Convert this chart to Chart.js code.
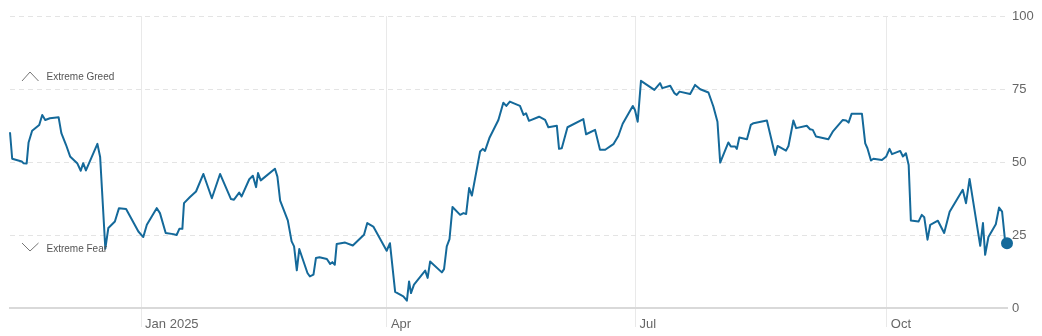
<!DOCTYPE html>
<html>
<head>
<meta charset="utf-8">
<script src="https://cdn.jsdelivr.net/npm/chart.js@4.4.1/dist/chart.umd.min.js"></script>
<style>
  body { margin: 0; background: #fff; }
  canvas { display: block; }
</style>
</head>
<body>
<canvas id="fearGreed" width="1042" height="336"></canvas>
<script>
// days since Nov 14 2024, and the index value on that day
const days = [0, 0.8, 4.3, 4.9, 6.1, 6.8, 8.1, 10.7, 11.8, 12.9, 14.6, 17.8, 18.8, 20.5, 22.0, 24.6, 25.9, 26.8, 27.8, 32.0,
  33.0, 34.9, 36.0, 38.4, 39.9, 42.5, 47.0, 48.8, 50.1, 53.7, 54.9, 57.0, 59.8, 61.0, 62.0, 63.1, 63.7, 65.9, 68.1, 70.8,
  73.9, 76.9, 80.9, 82.0, 83.9, 84.8, 87.6, 88.9, 90.1, 90.8, 91.8, 97.0, 97.9, 98.9, 101.7, 103.1, 104.0, 105.0, 105.9, 108.9,
  109.8, 111.1, 112.0, 113.3, 116.0, 117.2, 118.0, 118.9, 119.6, 122.7, 125.5, 129.6, 130.8, 133.0, 137.9, 139.1, 141.0, 144.0, 145.3, 146.1,
  146.8, 147.9, 152.0, 152.9, 153.8, 158.1, 158.9, 159.9, 160.9, 162.0, 164.8, 166.0, 167.0, 168.1, 169.1, 172.1, 173.1, 173.9, 175.5, 178.8,
  180.6, 181.7, 183.0, 184.5, 186.7, 188.0, 188.9, 190.0, 193.7, 195.9, 197.1, 200.2, 201.0, 202.0, 204.1, 209.9, 210.9, 214.2, 216.0, 217.9,
  220.9, 222.7, 224.3, 228.0, 228.8, 229.8, 231.0, 235.9, 238.0, 238.8, 241.7, 243.2, 244.1, 245.1, 249.0, 250.8, 252.7, 255.7, 257.5, 259.0,
  260.0, 263.0, 263.9, 265.5, 266.1, 267.0, 269.8, 271.2, 272.2, 277.1, 280.1, 281.0, 284.1, 285.0, 286.8, 287.8, 291.7, 292.9, 293.9, 295.1,
  299.6, 301.2, 304.9, 306.1, 307.0, 308.1, 311.9, 313.1, 313.9, 315.2, 316.1, 319.2, 320.8, 322.0, 322.9, 325.9, 326.9, 328.0, 329.0, 329.8,
  332.6, 333.8, 334.7, 335.9, 336.9, 339.7, 342.0, 344.0, 348.8, 350.0, 351.3, 355.2, 356.2, 357.0, 358.2, 360.9, 362.1, 363.2, 364.3, 365.0];
const values = [60.2, 51.1, 50.2, 49.6, 49.5, 56.7, 60.7, 62.7, 66.1, 64.4, 65.0, 65.3, 59.9, 55.9, 51.9, 49.6, 47.0, 49.6, 47.1, 56.2,
  51.7, 20.3, 27.4, 29.6, 34.2, 33.9, 26.2, 24.3, 28.5, 34.2, 32.5, 25.7, 25.3, 25.0, 27.1, 27.1, 35.9, 38.0, 39.9, 45.9,
  37.6, 45.9, 37.3, 37.1, 39.5, 38.2, 44.1, 45.3, 41.4, 46.2, 43.7, 47.7, 45.0, 36.8, 30.0, 22.8, 21.1, 12.9, 20.2, 12.0,
  10.8, 11.4, 17.1, 17.4, 16.8, 15.1, 15.7, 14.8, 21.9, 22.4, 21.4, 25.1, 29.1, 27.9, 19.6, 22.2, 5.5, 4.0, 2.5, 9.1,
  5.1, 8.0, 12.8, 10.3, 15.9, 12.2, 13.3, 21.1, 23.6, 34.6, 31.9, 32.5, 32.2, 41.1, 38.5, 53.6, 54.5, 53.8, 58.2, 64.4,
  70.3, 69.2, 70.7, 70.1, 69.2, 66.1, 66.7, 64.1, 65.5, 64.4, 61.9, 62.4, 54.5, 54.7, 61.9, 64.7, 59.5, 61.0, 54.2, 54.2,
  56.1, 58.9, 63.1, 69.2, 67.8, 63.8, 77.8, 74.7, 77.0, 75.3, 76.1, 73.6, 73.0, 74.1, 73.3, 76.4, 74.9, 73.8, 69.0, 63.8,
  49.8, 56.7, 55.3, 55.3, 54.5, 58.4, 57.8, 62.7, 63.3, 64.2, 52.4, 55.5, 53.9, 55.5, 64.2, 61.6, 62.4, 61.2, 61.0, 58.7,
  57.8, 60.4, 64.4, 64.2, 63.5, 66.5, 66.5, 56.4, 54.7, 50.5, 51.1, 50.7, 51.9, 54.5, 52.7, 53.8, 51.9, 53.0, 49.0, 30.0,
  29.6, 31.9, 31.1, 23.4, 28.5, 29.9, 25.7, 33.0, 40.5, 35.9, 44.2, 21.3, 29.1, 18.2, 24.3, 28.7, 34.4, 33.0, 23.0, 22.2];

const tickDays = [48, 138, 229, 321];
const tickLabels = ['Jan 2025', 'Apr', 'Jul', 'Oct'];
const yTicks = [0, 25, 50, 75, 100];

const lineColor = '#14699a';
const fontFamily = '"Liberation Sans", Arial, sans-serif';

// "Extreme Greed" / "Extreme Fear" markers on the left
const zoneLabels = {
  id: 'zoneLabels',
  afterDraw(chart) {
    const ctx = chart.ctx;
    const y = chart.scales.y;
    const greedY = y.getPixelForValue(75) - 12;
    const fearY = y.getPixelForValue(25) + 14;
    ctx.save();
    ctx.strokeStyle = '#666';
    ctx.lineWidth = 0.9;
    ctx.beginPath();
    ctx.moveTo(22, greedY + 4);
    ctx.lineTo(30, greedY - 5);
    ctx.lineTo(38.5, greedY + 4);
    ctx.stroke();
    ctx.beginPath();
    ctx.moveTo(22, fearY - 6);
    ctx.lineTo(30, fearY + 2);
    ctx.lineTo(38.5, fearY - 6);
    ctx.stroke();
    ctx.fillStyle = '#555';
    ctx.font = '10px ' + fontFamily;
    ctx.textBaseline = 'middle';
    ctx.fillText('Extreme Greed', 46.5, greedY + 0.5);
    ctx.fillText('Extreme Fear', 46.5, fearY);
    ctx.restore();
  }
};

const points = days.map((d, i) => ({ x: d, y: values[i] }));

new Chart(document.getElementById('fearGreed'), {
  type: 'line',
  data: {
    datasets: [{
      data: points,
      borderColor: lineColor,
      backgroundColor: lineColor,
      borderWidth: 2,
      borderJoinStyle: 'round',
      tension: 0,
      pointRadius: points.map((p, i) => i === points.length - 1 ? 5 : 0),
      pointHoverRadius: 0,
      clip: false
    }]
  },
  options: {
    responsive: false,
    animation: false,
    layout: { padding: { left: 10, top: 16, right: 0, bottom: 0 } },
    plugins: { legend: { display: false }, tooltip: { enabled: false } },
    scales: {
      x: {
        type: 'linear',
        min: 0,
        max: 365,
        afterBuildTicks: (scale) => {
          scale.ticks = tickDays.map(v => ({ value: v }));
        },
        afterFit: (scale) => { scale.height = 28; },
        grid: {
          color: '#e9e9e9',
          lineWidth: 1,
          tickLength: 19,
          tickColor: '#e9e9e9'
        },
        border: { color: '#d9d9d9', width: 2 },
        ticks: {
          autoSkip: false,
          maxRotation: 0,
          align: 'start',
          labelOffset: 4,
          padding: -10,
          color: '#666',
          font: { family: fontFamily, size: 13 },
          callback: (v) => tickLabels[tickDays.indexOf(v)]
        }
      },
      y: {
        position: 'right',
        min: 0,
        max: 100,
        afterBuildTicks: (scale) => {
          scale.ticks = yTicks.map(v => ({ value: v }));
        },
        afterFit: (scale) => { scale.width = 35; },
        grid: {
          color: '#e4e4e4',
          lineWidth: 1,
          drawTicks: false
        },
        border: { display: false, dash: [5, 4] },
        ticks: {
          padding: 5,
          color: '#666',
          font: { family: fontFamily, size: 13 }
        }
      }
    }
  },
  plugins: [zoneLabels]
});
</script>
</body>
</html>
